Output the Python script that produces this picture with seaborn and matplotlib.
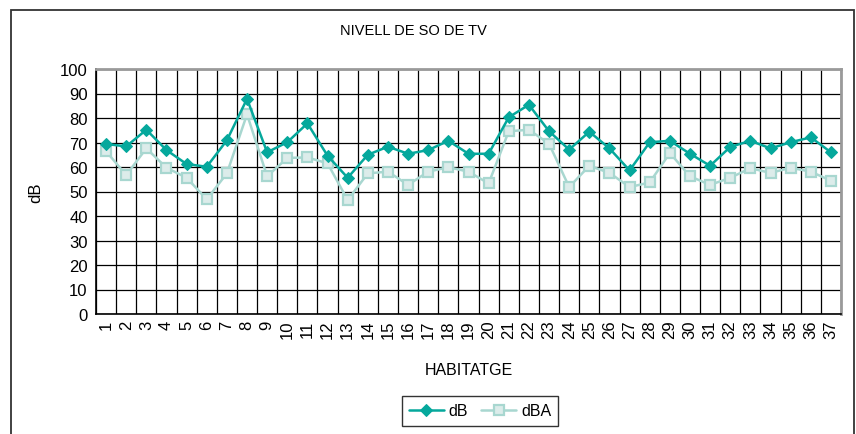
import numpy as np
import pandas as pd
import matplotlib
matplotlib.use("Agg")
import matplotlib.pyplot as plt
import seaborn as sns
from matplotlib.patches import Rectangle

# values
habitatge = list(range(1, 38))
db = [69.4, 68.4, 75.2, 66.9, 61.2, 60.1, 70.9, 87.8, 66.0, 70.1, 77.8, 64.6,
      55.6, 65.0, 68.3, 65.4, 66.9, 70.7, 65.4, 65.4, 80.3, 85.4, 74.6, 67.1,
      74.4, 67.6, 58.6, 70.1, 70.7, 65.4, 60.5, 68.2, 70.7, 67.6, 70.1, 72.1, 66.0]
dba = [66.4, 56.7, 67.6, 59.7, 55.6, 46.8, 57.4, 81.5, 56.2, 63.7, 63.9, 61.5,
       46.5, 57.4, 58.1, 52.7, 58.1, 59.9, 58.1, 53.3, 74.6, 75.2, 69.5, 51.8,
       60.5, 57.6, 51.8, 53.7, 65.7, 56.2, 52.7, 55.6, 59.5, 57.6, 59.7, 58.1, 54.4]
y_ticks = list(range(0, 101, 10))

df = pd.DataFrame({"habitatge": habitatge + habitatge,
                   "valor": db + dba,
                   "serie": ["dB"] * len(db) + ["dBA"] * len(dba)})

sns.set_style("white")
plt.rcParams["font.family"] = ["Liberation Sans", "DejaVu Sans"]
for k in ["text.color", "axes.labelcolor", "xtick.color", "ytick.color"]:
    plt.rcParams[k] = "black"

fig = plt.figure(figsize=(8.56, 4.35), dpi=100)
ax = fig.add_axes([96 / 856, 120 / 435, 745 / 856, 245 / 435])

c_db = "#05a89c"
c_dba = "#a8d7d0"

sns.lineplot(data=df[df.serie == "dB"], x="habitatge", y="valor", ax=ax,
             color=c_db, marker="D", markersize=6, markeredgecolor=c_db,
             markerfacecolor=c_db, linewidth=1.8, label="dB", zorder=4)
sns.lineplot(data=df[df.serie == "dBA"], x="habitatge", y="valor", ax=ax,
             color=c_dba, marker="s", markersize=7.5, markeredgecolor=c_dba,
             markerfacecolor="#dcecea", markeredgewidth=1.6, linewidth=1.8,
             label="dBA", zorder=3)

ax.set_xlim(0.5, 37.5)
ax.set_ylim(0, 100)
ax.set_yticks(y_ticks)
ax.set_xticks(habitatge)
ax.set_xticklabels([str(h) for h in habitatge], rotation=90)
ax.set_xticks(np.arange(0.5, 38, 1), minor=True)
ax.tick_params(axis="x", which="major", length=0, labelsize=12, pad=4)
ax.tick_params(axis="x", which="minor", length=5, direction="out", width=1, color="black")
ax.tick_params(axis="y", length=6, direction="inout", width=1, labelsize=12, pad=3, color="black")
ax.grid(False)
ax.xaxis.grid(True, which="minor", color="black", linewidth=0.9)
ax.yaxis.grid(True, which="major", color="black", linewidth=0.9)
for side in ["left", "bottom"]:
    ax.spines[side].set_color("black")
    ax.spines[side].set_linewidth(1.2)
for side in ["top", "right"]:
    ax.spines[side].set_color("#9a9a9a")
    ax.spines[side].set_linewidth(2)

ax.set_xlabel("HABITATGE", fontsize=11.5, labelpad=17)
ax.set_ylabel("dB", fontsize=12, labelpad=12)
fig.text(413 / 856, 1 - 31 / 435, "NIVELL DE SO DE TV", ha="center", va="center",
         fontsize=10.5, family=["Liberation Sans Narrow", "Liberation Sans", "DejaVu Sans"])

ax.legend(loc="center", bbox_to_anchor=(480 / 856, 23 / 435), bbox_transform=fig.transFigure,
          ncol=2, frameon=True, fancybox=False, edgecolor="black", fontsize=11.5,
          handlelength=2.2, columnspacing=0.8, handletextpad=0.3, borderpad=0.45)
ax.get_legend().get_frame().set_linewidth(1)

fig.patches.append(Rectangle((11 / 856, -0.02), 843 / 856, 1.02 - 11 / 435,
                             transform=fig.transFigure, fill=False,
                             edgecolor="#333333", linewidth=1.3))

fig.savefig("out.png", dpi=100)
